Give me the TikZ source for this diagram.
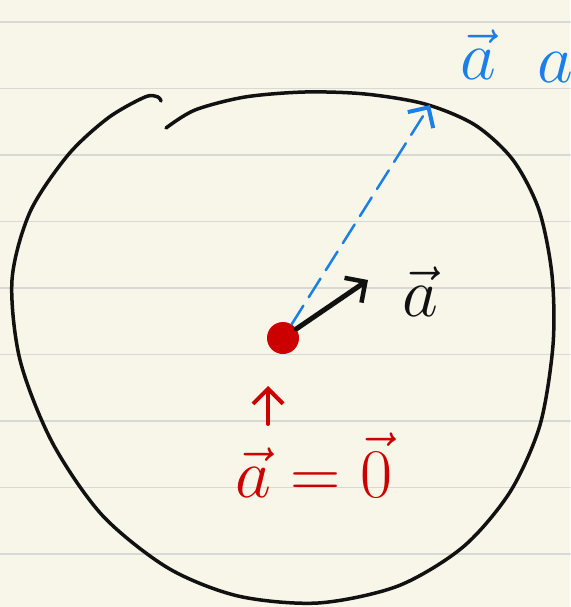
\documentclass[tikz,border=0pt]{standalone}
\usepackage{xcolor}
\usetikzlibrary{arrows.meta, positioning}
\definecolor{cpaper}{HTML}{F8F6E9}
\definecolor{crule}{HTML}{D8D8D4}
\definecolor{cink}{HTML}{111111}
\definecolor{cred}{HTML}{CC0000}
\definecolor{cblue}{HTML}{1B7FE8}

\begin{document}
\begin{tikzpicture}[x=1pt, y=-1pt, line cap=round, line join=round,
    hand/.style={font=\Huge, scale=2.8, inner sep=0pt},
    barb/.style={-{Straight Barb[length=15pt, width=30pt, line width=#1]}}]
    \fill[cpaper] (0,0) rectangle (570,607);
    \useasboundingbox (0,0) rectangle (570,607);
    \foreach \y in {22,88.5,...,607} \draw[crule, line width=1.5pt] (0,\y) -- (570,\y);
    % the circle, drawn in two strokes
    \draw[cink, line width=3.5pt] plot[smooth] coordinates {(166,128) (195,110) (245,97) (305,92) (365,94) (425,104) (475,125) (513,160) (539,210) (552,275) (553,345) (540,425) (510,492) (463,547) (398,586) (318,603) (238,596) (168,568) (102,515) (52,442) (20,360) (12,280) (30,212) (68,155) (108,118) (145,97) (158,97) (161,101)};
    \node (dot) [circle, fill=cred, minimum size=32pt, inner sep=0pt] at (283,338) {};
    \coordinate (tip) at (368,280);
    \coordinate (rim) at (430,105);
    \coordinate (up) at (268,386);
    \coordinate (low) at (268,424);
    \draw[barb=4.5pt, cink, line width=5pt] (dot) -- (tip);
    \draw[barb=4pt, cblue, line width=2.5pt, dash pattern=on 22pt off 10pt] (dot) -- (rim);
    \draw[barb=4pt, cred, line width=4pt] (low) -- (up);
    \node (ablack) [hand, cink] at (420,292) {$\vec a$};
    \node (ablue) [hand, cblue] at (478,55) {$\vec a$};
    \node (ablue2) [hand, cblue, anchor=west] at (537,68) {$a$};
    \node (zero) [hand, cred] at (314,465) {$\vec a = \vec 0$};
\end{tikzpicture}
\end{document}
